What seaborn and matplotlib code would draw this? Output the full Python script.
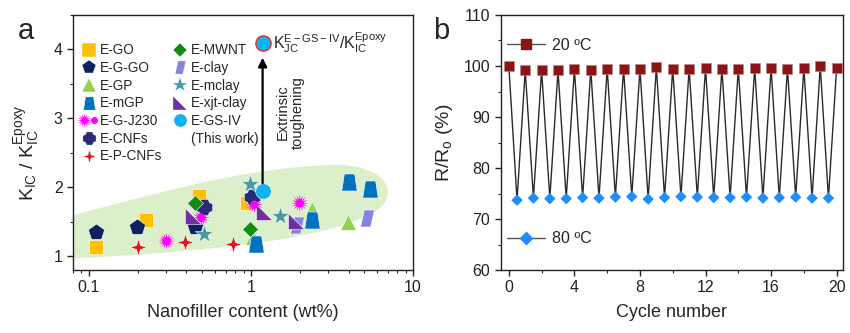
import numpy as np
import pandas as pd
import matplotlib
matplotlib.use("Agg")
import matplotlib.pyplot as plt
import seaborn as sns
from matplotlib.path import Path
from matplotlib.patches import PathPatch
from matplotlib.lines import Line2D
from matplotlib.ticker import MultipleLocator, LogLocator, FixedLocator, FuncFormatter, NullFormatter
from matplotlib.legend_handler import HandlerTuple

# ---------------- Panel a data (nanofiller wt%, K_IC ratio) ----------------
go_x = [0.11, 0.226, 0.481, 0.94]
go_y = [1.13, 1.52, 1.88, 1.77]
ggo_x = [0.11, 0.199, 0.45]
ggo_y = [1.35, 1.43, 1.42]
gp_x = [1.03, 2.38, 3.96]
gp_y = [1.28, 1.68, 1.50]
mgp_x = [1.08, 2.37, 4.0, 5.41]
mgp_y = [1.18, 1.52, 2.08, 1.98]
j230_x = [0.302, 0.494, 1.05, 2.0]
j230_y = [1.22, 1.56, 1.75, 1.77]
cnf_x = [0.512, 1.02]
cnf_y = [1.71, 1.86]
pcnf_x = [0.201, 0.394, 0.78]
pcnf_y = [1.13, 1.21, 1.18]
mwnt_x = [0.449, 0.986]
mwnt_y = [1.77, 1.40]
clay_x = [1.93, 5.16]
clay_y = [1.45, 1.56]
mclay_x = [0.986, 1.51, 0.512]
mclay_y = [2.05, 1.59, 1.33]
xjt_x = [0.437, 1.21, 1.9]
xjt_y = [1.59, 1.64, 1.51]
gsiv_x = [1.18]
gsiv_y = [1.94]
gsiv_top_x = [1.18]
gsiv_top_y = [4.10]

# ---------------- Panel b data (R/R0 %, cycles) ----------------
cycle_20 = [0, 1, 2, 3, 4, 5, 6, 7, 8, 9, 10, 11, 12, 13, 14, 15, 16, 17, 18, 19, 20]
r_20 = [100.0, 99.2, 99.2, 99.2, 99.4, 99.3, 99.5, 99.5, 99.5, 99.8, 99.5,
        99.5, 99.6, 99.5, 99.5, 99.6, 99.6, 99.5, 99.6, 100.0, 99.7]
cycle_80 = [0.5, 1.5, 2.5, 3.5, 4.5, 5.5, 6.5, 7.5, 8.5, 9.5, 10.5, 11.5,
            12.5, 13.5, 14.5, 15.5, 16.5, 17.5, 18.5, 19.5]
r_80 = [73.7, 74.1, 74.0, 74.0, 74.2, 74.1, 74.3, 74.4, 73.9, 74.2, 74.4,
        74.3, 74.2, 74.2, 74.3, 74.1, 74.2, 74.3, 74.1, 74.1]

# ---------------- style ----------------
sns.set_theme(style="ticks")
plt.rcParams["font.family"] = ["Liberation Sans", "DejaVu Sans"]
plt.rcParams["mathtext.fontset"] = "custom"
plt.rcParams["mathtext.rm"] = "Liberation Sans"
plt.rcParams["mathtext.it"] = "Liberation Sans"
plt.rcParams["axes.edgecolor"] = "#222222"
plt.rcParams["axes.linewidth"] = 1.0

# custom marker shapes
trap = Path([(-0.5, -0.55), (0.5, -0.55), (0.33, 0.55), (-0.33, 0.55), (-0.5, -0.55)],
            [Path.MOVETO, Path.LINETO, Path.LINETO, Path.LINETO, Path.CLOSEPOLY])
para = Path([(-0.45, -0.55), (0.2, -0.55), (0.45, 0.55), (-0.2, 0.55), (-0.45, -0.55)],
            [Path.MOVETO, Path.LINETO, Path.LINETO, Path.LINETO, Path.CLOSEPOLY])
rtri = Path([(-0.5, 0.5), (-0.5, -0.5), (0.5, -0.5), (-0.5, 0.5)],
            [Path.MOVETO, Path.LINETO, Path.LINETO, Path.CLOSEPOLY])
_cv = [(-0.22, 0.5), (0.22, 0.5), (0.3, 0.3), (0.5, 0.22), (0.5, -0.22), (0.3, -0.3),
       (0.22, -0.5), (-0.22, -0.5), (-0.3, -0.3), (-0.5, -0.22), (-0.5, 0.22), (-0.3, 0.3),
       (-0.22, 0.5)]
cross = Path(_cv, [Path.MOVETO] + [Path.LINETO] * 11 + [Path.CLOSEPOLY])
spark = Path.unit_regular_star(4, 0.33)
sun = Path.unit_regular_star(16, 0.42)

series = [
    # label, x, y, marker, color, size
    ("E-GO", go_x, go_y, "s", "#FFC000", 100),
    ("E-G-GO", ggo_x, ggo_y, "p", "#0E2260", 150),
    ("E-GP", gp_x, gp_y, "^", "#92D050", 125),
    ("E-mGP", mgp_x, mgp_y, trap, "#0070C0", 150),
    ("E-G-J230", j230_x, j230_y, sun, "#FF00FF", 150),
    ("E-CNFs", cnf_x, cnf_y, cross, "#2A2A78", 140),
    ("E-P-CNFs", pcnf_x, pcnf_y, spark, "#E0141E", 150),
    ("E-MWNT", mwnt_x, mwnt_y, "D", "#138A13", 65),
    ("E-clay", clay_x, clay_y, para, "#8585E0", 150),
    ("E-mclay", mclay_x, mclay_y, "*", "#479AA0", 190),
    ("E-xjt-clay", xjt_x, xjt_y, rtri, "#7030A0", 130),
    ("E-GS-IV", gsiv_x, gsiv_y, "o", "#11B2F0", 125),
]

fig = plt.figure(figsize=(8.5, 3.33), dpi=100)
ax1 = fig.add_axes([0.086, 0.189, 0.400, 0.766])
ax2 = fig.add_axes([0.589, 0.189, 0.403, 0.766])

# ---------------- Panel a ----------------
ax1.set_xscale("log")
ax1.set_xlim(0.08, 10)
ax1.set_ylim(0.8, 4.5)

# green background region (axes-fraction coordinates)
W, H, L, B = 340.0, 255.0, 73.0, 270.0
def af(px, py):
    return ((px - L) / W, (B - py) / H)
blob_pts = [af(40, 260), af(40, 224),
            af(150, 195), af(240, 168), af(330, 165),
            af(392, 163), af(402, 200), af(370, 214),
            af(330, 236), af(230, 252), af(40, 260)]
blob_codes = [Path.MOVETO, Path.LINETO,
              Path.CURVE4, Path.CURVE4, Path.CURVE4,
              Path.CURVE4, Path.CURVE4, Path.CURVE4,
              Path.CURVE4, Path.CURVE4, Path.CURVE4]
blob = PathPatch(Path(blob_pts, blob_codes), transform=ax1.transAxes,
                 facecolor="#DCEFCB", edgecolor="none", zorder=0, clip_on=True)
ax1.add_patch(blob)

handles = []
for label, xs, ys, mk, col, sz in series:
    df = pd.DataFrame({"x": xs, "y": ys})
    if label == "E-G-J230":
        sns.scatterplot(data=df, x="x", y="y", ax=ax1, marker=mk, color=col, s=sz,
                        edgecolor="none", linewidth=0, zorder=3, legend=False)
        sns.scatterplot(data=df, x="x", y="y", ax=ax1, marker="o", color=col,
                        s=34, edgecolor="none", zorder=4, legend=False)
        handles.append((Line2D([], [], ls="none", marker=sun, color=col, markersize=10.5, markeredgewidth=0),
                        Line2D([], [], ls="none", marker="o", color=col, markersize=5, markeredgewidth=0)))
    else:
        sns.scatterplot(data=df, x="x", y="y", ax=ax1, marker=mk, color=col, s=sz,
                        edgecolor="white", linewidth=0.4, zorder=3, legend=False)
        msz = {"D": 7, "*": 11.5, "p": 10}.get(mk if isinstance(mk, str) else "", 9.5)
        handles.append(Line2D([], [], ls="none", marker=mk, color=col, markersize=msz,
                              markeredgecolor="white", markeredgewidth=0.3))

labels = [s[0] for s in series]
# second text line of the last entry (invisible marker)
handles.append(Line2D([], [], ls="none", marker="o", markersize=9.5, alpha=0.0))
labels.append("(This work)")

# top highlight point
sns.scatterplot(x=gsiv_top_x, y=gsiv_top_y, ax=ax1, marker="o", color="#11B2F0", s=120,
                edgecolor="#E03030", linewidth=1.0, zorder=5, legend=False)
ax1.annotate("", xy=(gsiv_x[0], 3.88), xytext=(gsiv_x[0], 2.06),
             arrowprops=dict(arrowstyle="-|>", color="black", lw=1.6, mutation_scale=13,
                             shrinkA=0, shrinkB=0), zorder=4)
ax1.text(1.37, gsiv_top_y[0], r"$\mathregular{K_{JC}^{E-GS-IV}/K_{IC}^{Epoxy}}$",
         fontsize=11.5, ha="left", va="center")
ax1.text(1.74, 3.09, "Extrinsic\ntoughening", rotation=90, ha="center", va="center",
         fontsize=10.5, linespacing=1.1)

ax1.legend(handles, labels, ncol=2, loc="upper left", bbox_to_anchor=(0.01, 0.91),
           frameon=False, fontsize=9.8, handlelength=1.0, handletextpad=0.3,
           labelspacing=0.27, columnspacing=0.8, borderaxespad=0,
           handler_map={tuple: HandlerTuple(ndivide=None)})

ax1.xaxis.set_major_locator(FixedLocator([0.1, 1, 10]))
ax1.xaxis.set_major_formatter(FuncFormatter(lambda v, p: f"{v:g}"))
ax1.xaxis.set_minor_locator(LogLocator(base=10, subs=np.arange(2, 10)))
ax1.xaxis.set_minor_formatter(NullFormatter())
ax1.yaxis.set_major_locator(MultipleLocator(1))
ax1.yaxis.set_minor_locator(MultipleLocator(0.5))
ax1.set_xlabel("Nanofiller content (wt%)", fontsize=13, labelpad=6)
ax1.set_ylabel(r"$\mathregular{K_{IC}\ /\ K_{IC}^{Epoxy}}$", fontsize=14, labelpad=8)
ax1.yaxis.set_label_coords(-0.09, 0.46)

# ---------------- Panel b ----------------
cyc_all = []
r_all = []
for i in range(len(cycle_80)):
    cyc_all += [cycle_20[i], cycle_80[i]]
    r_all += [r_20[i], r_80[i]]
cyc_all.append(cycle_20[-1])
r_all.append(r_20[-1])
dfl = pd.DataFrame({"cycle": cyc_all, "r": r_all})
sns.lineplot(data=dfl, x="cycle", y="r", ax=ax2, color="#2a2a2a", lw=1.0,
             estimator=None, sort=False, zorder=2)
sns.scatterplot(x=cycle_20, y=r_20, ax=ax2, marker="s", color="#8B1414", s=42,
                edgecolor="#c08080", linewidth=0.4, zorder=3, legend=False)
sns.scatterplot(x=cycle_80, y=r_80, ax=ax2, marker="D", color="#1E8EFF", s=34,
                edgecolor="none", zorder=3, legend=False)

ax2.set_xlim(-0.5, 20.4)
ax2.set_ylim(60, 110)
ax2.xaxis.set_major_locator(MultipleLocator(4))
ax2.xaxis.set_minor_locator(MultipleLocator(2))
ax2.yaxis.set_major_locator(MultipleLocator(10))
ax2.yaxis.set_minor_locator(MultipleLocator(5))
ax2.set_xlabel("Cycle number", fontsize=13, labelpad=6)
ax2.set_ylabel(r"$\mathregular{R/R_o}$ (%)", fontsize=14, labelpad=6)

h20 = Line2D([], [], color="#555555", lw=1.0, marker="s", markersize=6.5,
             markerfacecolor="#8B1414", markeredgecolor="#8B1414")
h80 = Line2D([], [], color="#555555", lw=1.0, marker="D", markersize=6,
             markerfacecolor="#1E8EFF", markeredgecolor="#1E8EFF")
lg_a = ax2.legend([h20], ["20 ºC"], loc="center left", bbox_to_anchor=(0.0, 0.882),
                  frameon=False, fontsize=11.5, handlelength=2.4, handletextpad=0.4,
                  borderaxespad=0)
ax2.add_artist(lg_a)
ax2.legend([h80], ["80 ºC"], loc="center left", bbox_to_anchor=(0.0, 0.122),
           frameon=False, fontsize=11.5, handlelength=2.4, handletextpad=0.4,
           borderaxespad=0)

for ax in (ax1, ax2):
    for sp in ax.spines.values():
        sp.set_visible(True)
        sp.set_color("#222222")
    ax.tick_params(which="major", direction="out", length=4, width=1, labelsize=11.5,
                   colors="#222222", top=False, right=False)
    ax.tick_params(which="minor", direction="out", length=2.5, width=0.8,
                   top=False, right=False)
    ax.grid(False)

fig.text(18 / 850, 1 - 39 / 333, "a", fontsize=21, va="baseline", ha="left")
fig.text(433 / 850, 1 - 39 / 333, "b", fontsize=21, va="baseline", ha="left")

fig.savefig("out.png", dpi=100)
